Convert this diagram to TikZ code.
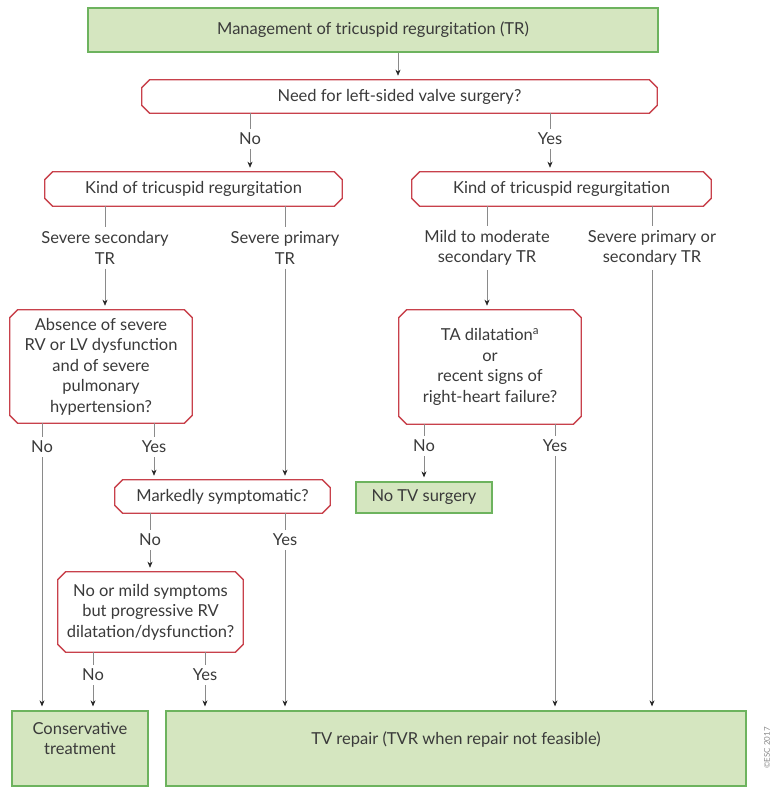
\documentclass[tikz,border=0pt]{standalone}
\usepackage{fontspec}
\setmainfont{Lato}
\usetikzlibrary{arrows.meta}
\definecolor{boxgreen}{HTML}{D5E6C0}
\definecolor{edgegreen}{HTML}{6DB35E}
\definecolor{edgered}{HTML}{C8414B}
\definecolor{txt}{HTML}{3A3A3A}
\definecolor{wire}{HTML}{8A8A8A}

\begin{document}
\begin{tikzpicture}
            [x=1pt, y=-1pt, >={Stealth[length=6pt,width=5pt,color=black!85]}, shorten >=4pt, semithick,
             every node/.style={text=txt, font=\fontsize{16.5}{20.5}\selectfont, align=center},
             greenbox/.style={draw=edgegreen, fill=boxgreen, line width=1.3pt, inner sep=0pt},
             redbox/.style={rectangle, fill=white, inner sep=0pt},
             lbl/.style={inner sep=4pt},
             wire/.style={draw=wire, shorten >=0pt},
             link/.style={draw=wire, ->}]
            \useasboundingbox (0,0) rectangle (776,800);

            \node[greenbox, minimum width=570, minimum height=44] (mgmt) at (373,30) {Management of tricuspid regurgitation (TR)};
            \node[redbox, minimum width=515, minimum height=33] (need) at (399.5,96.5) {Need for left-sided valve surgery?};
            \node[lbl] (no1) at (250,139) {No};
            \node[lbl] (yes1) at (550,139) {Yes};

            \node[redbox, minimum width=297, minimum height=34] (kindL) at (193.5,189) {Kind of tricuspid regurgitation};
            \node[redbox, minimum width=299, minimum height=34] (kindR) at (561.5,189) {Kind of tricuspid regurgitation};

            \node[lbl] (sevsec) at (105,248) {Severe secondary\\TR};
            \node[lbl] (sevprim) at (285,248) {Severe primary\\TR};
            \node[lbl] (mildmod) at (487,248) {Mild to moderate\\secondary TR};
            \node[lbl] (sevps) at (652,248) {Severe primary or\\secondary TR};

            \node[redbox, minimum width=182, minimum height=113] (absence) at (101,366.5)
                {Absence of severe\\RV or LV dysfunction\\and of severe\\pulmonary\\hypertension?};
            \node[redbox, minimum width=182, minimum height=114] (ta) at (490,367)
                {TA dilatation\textsuperscript{a}\\or\\recent signs of\\right-heart failure?};
            \node[lbl] (no2) at (42,447) {No};
            \node[lbl] (yes2) at (154,447) {Yes};
            \node[lbl] (no5) at (424,446) {No};
            \node[lbl] (yes5) at (555,446) {Yes};

            \node[redbox, minimum width=215, minimum height=33] (markedly) at (222.5,496.5) {Markedly symptomatic?};
            \node[greenbox, minimum width=136, minimum height=31] (notv) at (424,497.5) {No TV surgery};
            \node[lbl] (no3) at (150,540) {No};
            \node[lbl] (yes3) at (285,540) {Yes};

            \node[redbox, minimum width=185, minimum height=80] (nomild) at (150.5,612)
                {No or mild symptoms\\but progressive RV\\dilatation/dysfunction?};
            \node[lbl] (no4) at (93,675) {No};
            \node[lbl] (yes4) at (205,675) {Yes};

            \node[greenbox, minimum width=136, minimum height=75, text depth=20pt] (cons) at (80,748.5) {Conservative\\treatment};
            \node[greenbox, minimum width=580, minimum height=75, text depth=20pt] (tvrep) at (456,748.5) {TV repair (TVR when repair not feasible)};
            \node[rotate=90, text=wire, font=\fontsize{8}{9}\selectfont] (esc) at (767,748) {©ESC 2017};

            % chamfered outlines of the question boxes
            \foreach \n in {need, kindL, kindR, absence, ta, markedly, nomild}
                \draw[edgered, line width=1.3pt, shorten >=0pt]
                    ([xshift=8pt]\n.north west) -- ([xshift=-8pt]\n.north east) -- ([yshift=-8pt]\n.north east)
                    -- ([yshift=8pt]\n.south east) -- ([xshift=-8pt]\n.south east) -- ([xshift=8pt]\n.south west)
                    -- ([yshift=8pt]\n.south west) -- ([yshift=-8pt]\n.north west) -- cycle;

            % top level
            \path [link] (mgmt.south -| 398,0) -- (need.north -| 398,0);
            \path [wire] (need.south -| no1) -- (no1.north);
            \path [link] (no1.south) -- (kindL.north -| no1);
            \path [wire] (need.south -| yes1) -- (yes1.north);
            \path [link] (yes1.south) -- (kindR.north -| yes1);

            % left branch
            \path [wire] (kindL.south -| sevsec) -- (sevsec.north);
            \path [link] (sevsec.south) -- (absence.north -| sevsec);
            \path [wire] (kindL.south -| sevprim) -- (sevprim.north);
            \path [link] (sevprim.south) -- (markedly.north -| sevprim);
            \path [wire] (absence.south -| no2) -- (no2.north);
            \path [link] (no2.south) -- (cons.north -| no2);
            \path [wire] (absence.south -| yes2) -- (yes2.north);
            \path [link] (yes2.south) -- (markedly.north -| yes2);
            \path [wire] (markedly.south -| no3) -- (no3.north);
            \path [link] (no3.south) -- (nomild.north -| no3);
            \path [wire] (markedly.south -| yes3) -- (yes3.north);
            \path [link] (yes3.south) -- (tvrep.north -| yes3);
            \path [wire] (nomild.south -| no4) -- (no4.north);
            \path [link] (no4.south) -- (cons.north -| no4);
            \path [wire] (nomild.south -| yes4) -- (yes4.north);
            \path [link] (yes4.south) -- (tvrep.north -| yes4);

            % right branch
            \path [wire] (kindR.south -| mildmod) -- (mildmod.north);
            \path [link] (mildmod.south) -- (ta.north -| mildmod);
            \path [wire] (kindR.south -| sevps) -- (sevps.north);
            \path [link] (sevps.south) -- (tvrep.north -| sevps);
            \path [wire] (ta.south -| no5) -- (no5.north);
            \path [link] (no5.south) -- (notv.north -| no5);
            \path [wire] (ta.south -| yes5) -- (yes5.north);
            \path [link] (yes5.south) -- (tvrep.north -| yes5);
        \end{tikzpicture}
\end{document}
